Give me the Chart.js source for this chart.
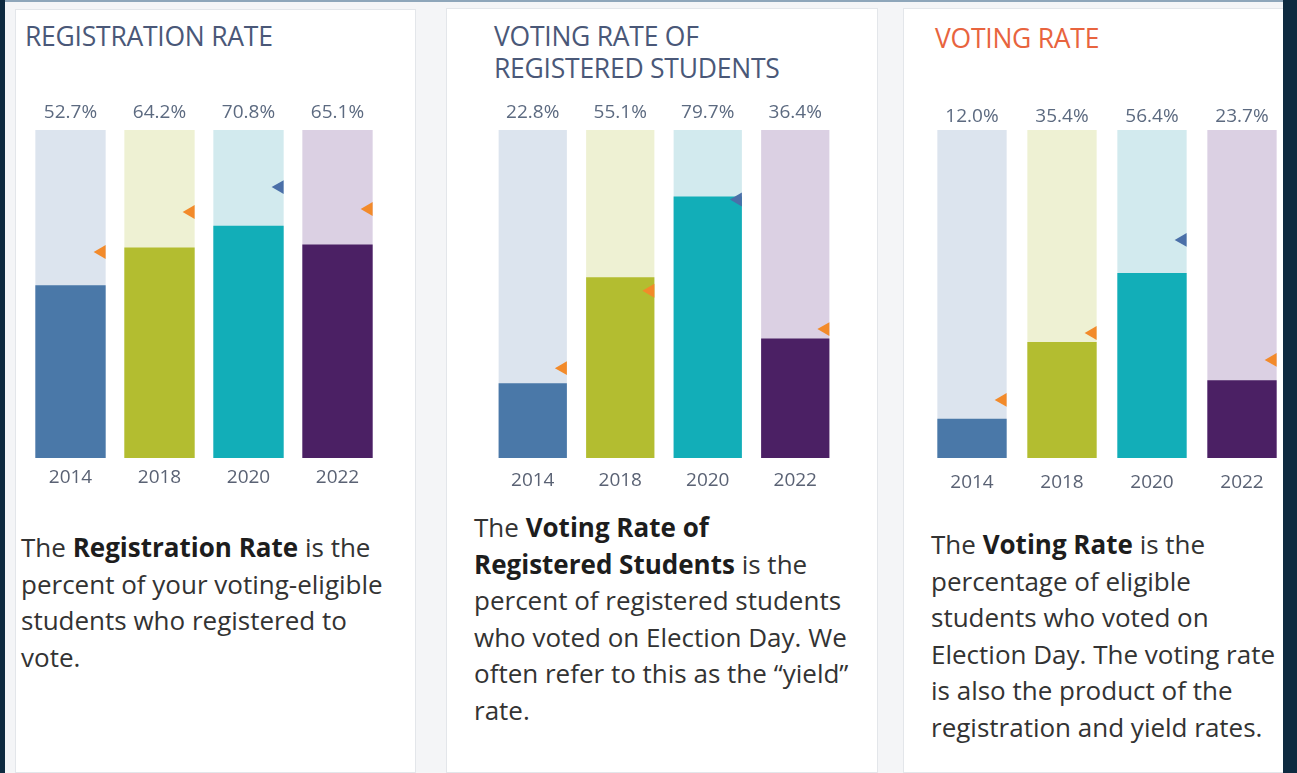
<!DOCTYPE html>
<html>
<head>
<meta charset="utf-8">
<script src="https://cdn.jsdelivr.net/npm/chart.js@4.4.1/dist/chart.umd.min.js"></script>
<style>
  html, body { margin: 0; padding: 0; }
  body {
    width: 1297px; height: 773px; overflow: hidden; position: relative;
    background: #f4f5f7; font-family: "Open Sans", sans-serif;
  }
  .topline { position: absolute; left: 0; top: 0; width: 1297px; height: 2px; background: #8ea6ba; }
  .leftstrip { position: absolute; left: 0; top: 0; width: 5px; height: 773px; background: #0e2a40; }
  .rightstrip { position: absolute; left: 1283px; top: 0; width: 14px; height: 773px; background: #0e2a40; z-index: 5; }
  .panel { position: absolute; background: #fff; border: 1px solid #e3e6ea; box-sizing: border-box; }
  .title {
    position: absolute; font-size: 26.5px; line-height: 32px; color: #4a5878;
    letter-spacing: -0.25px; white-space: nowrap;
  }
  .desc {
    position: absolute; font-size: 26px; line-height: 36.5px; color: #333;
    white-space: nowrap;
  }
  .desc b { color: #1d1d1d; font-weight: 700; }
  .chartbox { position: absolute; top: 95px; height: 403px; }
</style>
</head>
<body>
<div class="topline"></div>
<div class="leftstrip"></div>

<div class="panel" style="left:15px; top:9px; width:401px; height:764px;"></div>
<div class="panel" style="left:446px; top:8px; width:432px; height:765px;"></div>
<div class="panel" style="left:903px; top:8px; width:390px; height:765px;"></div>

<div class="title" style="left:25px; top:20px;">REGISTRATION RATE</div>
<div class="title" style="left:494px; top:20px;">VOTING RATE OF<br>REGISTERED STUDENTS</div>
<div class="title" style="left:935px; top:22px; color:#e8643e;">VOTING RATE</div>

<div class="chartbox" style="left:26px; width:356px;"><canvas id="regChart"></canvas></div>
<div class="chartbox" style="left:489px; width:350px;"><canvas id="yieldChart"></canvas></div>
<div class="chartbox" style="left:927px; width:360px;"><canvas id="voteChart"></canvas></div>

<div class="desc" style="left:21px; top:529px;">The <b>Registration Rate</b> is the<br>percent of your voting-eligible<br>students who registered to<br>vote.</div>
<div class="desc" style="left:474px; top:509px;">The <b>Voting Rate of</b><br><b>Registered Students</b> is the<br>percent of registered students<br>who voted on Election Day. We<br>often refer to this as the “yield”<br>rate.</div>
<div class="desc" style="left:931px; top:526px;">The <b>Voting Rate</b> is the<br>percentage of eligible<br>students who voted on<br>Election Day. The voting rate<br>is also the product of the<br>registration and yield rates.</div>

<div class="rightstrip"></div>

<script>
const years = ["2014", "2018", "2020", "2022"];

const registrationRate = [52.7, 64.2, 70.8, 65.1];
const registrationMark = [62.8, 75.0, 82.6, 75.9];

const yieldRate = [22.8, 55.1, 79.7, 36.4];
const yieldMark = [27.4, 51.0, 78.8, 39.3];

const votingRate = [12.0, 35.4, 56.4, 23.7];
const votingMark = [17.7, 38.1, 66.5, 29.9];

const fullBar = [100, 100, 100, 100];

const barColors = ["#4a78a8", "#b3bd30", "#12aeb8", "#4b2064"];
const trackColors = ["#dce4ee", "#eef1d3", "#d2eaee", "#dbd0e3"];
const markColors = ["#f28a2a", "#f28a2a", "#4a6fa8", "#f28a2a"];

const MARK_R = 8;

// push each marker to the right edge of its bar
const markerShift = {
  id: "markerShift",
  afterDatasetsUpdate(chart) {
    const bars = chart.getDatasetMeta(1).data;
    const marks = chart.getDatasetMeta(0).data;
    marks.forEach((p, i) => {
      const b = bars[i];
      p.x = b.x + b.width / 2 - MARK_R / 2;
    });
  }
};

function makeChart(id, values, marks, opts) {
  return new Chart(document.getElementById(id), {
    data: {
      labels: years,
      datasets: [
        {
          type: "line",
          data: marks,
          showLine: false,
          pointStyle: "triangle",
          rotation: -90,
          pointRadius: MARK_R,
          pointBorderWidth: 0,
          pointBackgroundColor: markColors,
          pointBorderColor: markColors,
          order: 0
        },
        {
          type: "bar",
          data: values,
          backgroundColor: barColors,
          borderWidth: 0,
          grouped: false,
          barPercentage: opts.barPct,
          categoryPercentage: 1,
          order: 1
        },
        {
          type: "bar",
          data: fullBar,
          backgroundColor: trackColors,
          borderWidth: 0,
          grouped: false,
          barPercentage: opts.barPct,
          categoryPercentage: 1,
          order: 2
        }
      ]
    },
    options: {
      responsive: true,
      maintainAspectRatio: false,
      animation: false,
      layout: { padding: 0, autoPadding: false },
      plugins: { legend: { display: false }, tooltip: { enabled: false } },
      scales: {
        x: {
          type: "category",
          offset: true,
          grid: { display: false, drawTicks: false },
          border: { display: false },
          ticks: {
            color: "#5a6274",
            font: { family: "Open Sans", size: 19 },
            padding: opts.bottomPad
          },
          afterFit: (axis) => { axis.height = 40; }
        },
        x2: {
          type: "category",
          position: "top",
          labels: values.map(v => v.toFixed(1) + "%"),
          offset: true,
          grid: { display: false, drawTicks: false },
          border: { display: false },
          ticks: {
            color: "#5c6a80",
            font: { family: "Open Sans", size: 19 },
            padding: opts.topPad
          },
          afterFit: (axis) => { axis.height = 35; }
        },
        y: {
          display: false,
          min: 0,
          max: 100
        }
      }
    },
    plugins: [markerShift]
  });
}

makeChart("regChart", registrationRate, registrationMark, { barPct: 0.79, topPad: 6, bottomPad: 8 });
makeChart("yieldChart", yieldRate, yieldMark, { barPct: 0.78, topPad: 6, bottomPad: 11 });
makeChart("voteChart", votingRate, votingMark, { barPct: 0.77, topPad: 2, bottomPad: 13 });
</script>
</body>
</html>
